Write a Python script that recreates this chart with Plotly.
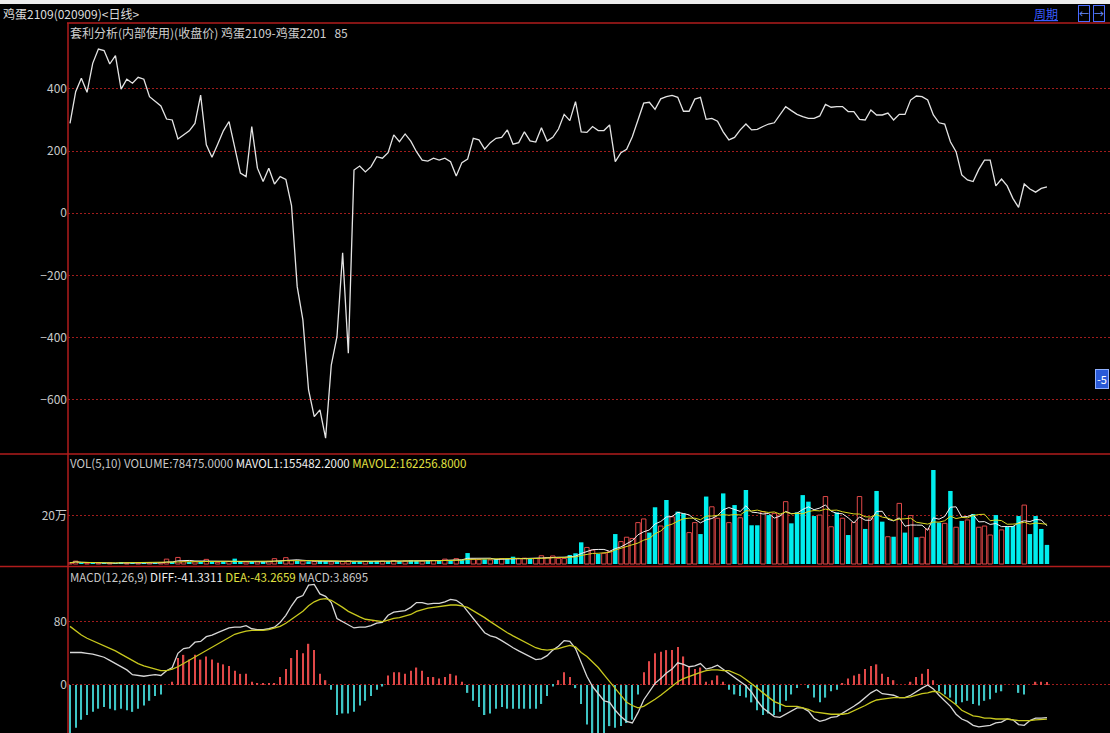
import plotly.graph_objects as go
import pandas as pd

# ---------------- data ----------------
spread = [289, 391, 434, 389, 482, 528, 523, 480, 507, 399,
          431, 418, 437, 431, 375, 359, 345, 303, 300, 239,
          252, 265, 289, 380, 220, 180, 222, 265, 295, 214,
          129, 118, 279, 145, 102, 145, 94, 118, 109, 25,
          -236, -343, -568, -654, -632, -723, -488, -397, -127, -450,
          139, 152, 133, 150, 182, 177, 195,
          252, 230, 255, 232, 198, 171, 168, 177, 171, 177,
          166, 120, 163, 174, 241, 236, 206, 227, 241, 244,
          268, 222, 227, 262, 233, 229, 275, 232, 244, 271,
          318, 298, 359, 262, 260, 279, 266, 266, 284, 166,
          195, 206, 246, 302, 354, 357, 334, 368, 375, 379,
          373, 328, 328, 367, 373, 302, 305, 296,
          262, 236, 244, 268, 287, 268, 270, 279, 287, 291,
          316, 343, 330, 318, 311, 305, 305, 313, 350, 341,
          343, 343, 327, 327, 302, 300, 332, 316, 316, 322,
          300, 318, 318, 364, 377, 375, 364, 316, 291, 287,
          230, 198, 123, 107, 102, 141, 171, 171, 88, 110,
          88, 48, 19, 94, 78, 68, 80, 85]

volume_k = [5, 12, 4, 3, 3, 4, 3, 4, 3, 8, 3, 3, 4, 4, 5, 4,
            6, 20, 8, 27, 10, 8, 9, 7, 19, 8, 7, 9, 10, 22, 9, 8, 7, 9, 10, 11,
            22, 12, 26, 14, 13, 12, 11, 10, 12, 11, 9, 10, 11, 13, 9, 10, 10, 12, 13, 12,
            11, 14, 12, 12, 15, 13, 12, 16, 14, 15, 20, 14, 22, 16, 45, 20, 18, 19, 17, 20,
            22, 20, 30, 22, 24, 21, 23, 34, 26,
            33, 23, 23, 37, 44, 89, 68, 57, 41, 44,
            51, 123, 92, 110, 105, 170, 185, 129, 233, 156,
            263, 194, 215, 208, 129, 170, 123, 277, 235, 188,
            290, 170, 242, 190, 304, 159, 159, 215, 201, 208,
            201, 256, 167, 212, 283, 256, 197, 201, 277, 153,
            212, 188, 119, 171, 277, 144, 188, 300, 174, 112,
            112, 249, 129, 199, 110, 110, 144, 386, 170, 167,
            300, 151, 177, 181, 205, 151, 156, 119, 201, 140,
            153, 156, 197, 242, 123, 197, 144, 78.475]

vol_up = [1, 1, 0, 1, 0, 1, 0, 1, 0, 0, 1, 0, 1, 0, 1, 0,
          1, 1, 0, 1, 1, 0, 1, 0, 1, 0, 1, 0, 1, 0, 0, 1, 0, 1, 0, 1,
          1, 0, 1, 1, 0, 1, 0, 1, 0, 0, 1, 0, 1, 1, 0, 0, 1, 0, 0, 1,
          0, 1, 0, 1, 0, 0, 1, 0, 1, 0, 1, 0, 1, 0, 0, 1, 1, 0, 1, 0,
          1, 0, 0, 1, 1, 0, 1, 1, 1,
          1, 1, 1, 0, 0, 0, 1, 1, 0, 1,
          1, 0, 1, 1, 1, 1, 1, 0, 0, 1,
          0, 1, 0, 0, 1, 1, 0, 0, 1, 1,
          0, 1, 0, 1, 0, 0, 0, 1, 0, 1,
          1, 1, 0, 0, 0, 0, 0, 1, 1, 1,
          0, 1, 0, 1, 1, 0, 1, 0, 0, 1,
          0, 1, 0, 1, 0, 1, 1, 0, 0, 1,
          0, 1, 0, 1, 0, 1, 1, 1, 0, 1,
          0, 0, 0, 1, 0, 0, 0, 0]

diff = [41, 41, 41, 40, 39, 37, 35, 31, 27, 24, 19, 13, 12, 11, 12, 13, 12,
        18, 22, 40, 46, 47, 54, 55, 61, 63, 66, 69, 72, 73, 73, 75, 71, 70, 70, 71, 73,
        79, 88, 100, 110, 113, 126, 127, 115, 112, 104,
        84, 80, 75, 72, 73, 73, 75, 78, 79,
        88, 92, 93, 94, 98, 104, 104, 102, 103, 103, 105, 108, 107, 102,
        93, 84, 76, 66, 62, 60, 56, 51, 47, 43, 39, 35, 32, 33, 37,
        44, 49, 56, 55, 46, 29, 11, -2, -11,
        -20, -22, -32, -40, -46, -48, -35, -19, -8, 2,
        8, 15, 20, 28, 26, 23, 24, 27, 20, 22,
        25, 20, 15, 9, 5, -1, -9, -20, -29, -34,
        -40, -41, -37, -33, -29, -29, -33, -42, -46, -44,
        -41, -40, -36, -32, -27, -22, -16, -10, -6, -11,
        -12, -13, -16, -16, -13, -8, -4, 0, -5, -13,
        -20, -27, -37, -43, -46, -51, -53, -52, -51, -48,
        -47, -43, -44, -50, -51, -45, -42, -42, -41.3311]

dea = [74, 68, 63, 59, 56, 52, 49, 46, 43, 39, 35, 30, 27, 24, 22, 20, 18,
       18, 20, 23, 27, 31, 35, 39, 43, 47, 52, 56, 60, 64, 66, 68, 69, 69, 69, 70, 72,
       74, 78, 83, 88, 93, 100, 105, 108, 109, 107,
       103, 98, 93, 89, 86, 83, 82, 81, 80,
       82, 84, 85, 87, 89, 93, 95, 97, 98, 99, 100, 101, 101, 100,
       98, 94, 90, 85, 80, 75, 70, 66, 62, 58, 54, 50, 47, 45, 44,
       45, 46, 48, 50, 48, 41, 36, 29, 22,
       13, 4, -5, -14, -22, -26, -29, -27, -23, -18,
       -13, -7, -2, 4, 8, 11, 14, 16, 18, 19,
       19, 18, 18, 15, 12, 7, 2, -4, -10, -16,
       -21, -24, -27, -27, -27, -29, -31, -34, -35, -36,
       -37, -37, -37, -36, -33, -29, -26, -22, -19, -18,
       -17, -16, -16, -16, -15, -13, -11, -10, -8, -9,
       -14, -19, -25, -32, -36, -39, -40, -42, -42, -43,
       -43, -43, -44, -45, -45, -45, -44, -44, -43.2659]

main_ticks = [-600, -400, -200, 0, 200, 400]
vol_ticks = [200000]
vol_tick_text = ["20万"]
macd_ticks = [0, 80]

# ---------------- derived ----------------
n = len(spread)
idx = list(range(n))
volume = [v * 1000 for v in volume_k]
mavol1 = pd.Series(volume).rolling(5, min_periods=1).mean().tolist()
mavol2 = pd.Series(volume).rolling(10, min_periods=1).mean().tolist()
macd = [2 * (a - b) for a, b in zip(diff, dea)]

W, H = 1110, 733
T, L = 22, 68


def fy(p):
    return 1 - (p - T) / (H - T)


def fx(p):
    return (p - L) / (W - L)


FONT = "Noto Sans CJK SC, DejaVu Sans, sans-serif"
RED_SEP = "#b01c1c"
GRID = "#a01c1c"
TXT = "#c8c8c8"

fig = go.Figure()

# main spread line
fig.add_trace(go.Scatter(x=idx, y=spread, mode="lines",
                         line=dict(color="#e4e4e4", width=1.3),
                         xaxis="x", yaxis="y"))

# volume bars
up_x = [i for i in idx if vol_up[i] == 1]
dn_x = [i for i in idx if vol_up[i] == 0]
fig.add_trace(go.Bar(x=up_x, y=[volume[i] for i in up_x], width=0.78,
                     marker=dict(color="black", line=dict(color="#e04848", width=1)),
                     xaxis="x2", yaxis="y2"))
fig.add_trace(go.Bar(x=dn_x, y=[volume[i] for i in dn_x], width=0.78,
                     marker=dict(color="#00eeee", line=dict(width=0)),
                     xaxis="x2", yaxis="y2"))
fig.add_trace(go.Scatter(x=idx, y=mavol1, mode="lines",
                         line=dict(color="#f0f0f0", width=1), xaxis="x2", yaxis="y2"))
fig.add_trace(go.Scatter(x=idx, y=mavol2, mode="lines",
                         line=dict(color="#d8d820", width=1), xaxis="x2", yaxis="y2"))

# MACD histogram
pos_x = [i for i in idx if macd[i] >= 0]
neg_x = [i for i in idx if macd[i] < 0]
fig.add_trace(go.Bar(x=pos_x, y=[macd[i] for i in pos_x], width=0.24,
                     marker=dict(color="#e04848", line=dict(width=0)),
                     xaxis="x3", yaxis="y3"))
fig.add_trace(go.Bar(x=neg_x, y=[macd[i] for i in neg_x], width=0.24,
                     marker=dict(color="#3ec4c4", line=dict(width=0)),
                     xaxis="x3", yaxis="y3"))
fig.add_trace(go.Scatter(x=idx, y=diff, mode="lines",
                         line=dict(color="#d8d8d8", width=1.3), xaxis="x3", yaxis="y3"))
fig.add_trace(go.Scatter(x=idx, y=dea, mode="lines",
                         line=dict(color="#c8c81e", width=1.3), xaxis="x3", yaxis="y3"))

xr = [(L - 70) / 5.68, (W - 70) / 5.68]
xcommon = dict(range=xr, showticklabels=False, showgrid=False, zeroline=False,
               showline=False, ticks="", fixedrange=True)
ycommon = dict(showgrid=True, gridcolor=GRID, griddash="2px,2px", gridwidth=1,
               zeroline=False, showline=False, ticks="",
               tickfont=dict(color=TXT, size=12, family=FONT), fixedrange=True)

fig.update_layout(
    width=W, height=H,
    margin=dict(l=L, r=0, t=T, b=0),
    paper_bgcolor="black", plot_bgcolor="black",
    showlegend=False, hovermode=False, barmode="overlay",
    font=dict(family=FONT, color=TXT, size=12),
    xaxis=dict(domain=[0, 1], anchor="y", **xcommon),
    xaxis2=dict(domain=[0, 1], anchor="y2", matches="x", **xcommon),
    xaxis3=dict(domain=[0, 1], anchor="y3", matches="x", **xcommon),
    yaxis=dict(domain=[fy(454), 1], range=[-774, 615], tickvals=main_ticks, **ycommon),
    yaxis2=dict(domain=[fy(566), fy(455)], range=[-8200, 447700],
                tickvals=vol_ticks, ticktext=vol_tick_text, **ycommon),
    yaxis3=dict(domain=[0, fy(567)], range=[-60.7, 149], tickvals=macd_ticks, **ycommon),
)

shapes = [
    dict(type="rect", xref="paper", yref="paper", x0=fx(0), x1=1, y0=fy(4), y1=fy(0),
         fillcolor="#ececec", line=dict(width=0), layer="above"),
    dict(type="line", xref="paper", yref="paper", x0=fx(67), x1=1, y0=fy(23), y1=fy(23),
         line=dict(color=RED_SEP, width=1.5)),
    dict(type="line", xref="paper", yref="paper", x0=fx(0), x1=1, y0=fy(454), y1=fy(454),
         line=dict(color=RED_SEP, width=1.5)),
    dict(type="line", xref="paper", yref="paper", x0=fx(0), x1=1, y0=fy(566.5), y1=fy(566.5),
         line=dict(color=RED_SEP, width=1.5)),
    dict(type="line", xref="paper", yref="paper", x0=fx(68), x1=fx(68), y0=0, y1=fy(23),
         line=dict(color=RED_SEP, width=1.5)),
]
fig.update_layout(shapes=shapes)


def ann(px, py, text, color=TXT, size=12, xanchor="left", **kw):
    fig.add_annotation(xref="paper", yref="paper", x=fx(px), y=fy(py), text=text,
                       showarrow=False, xanchor=xanchor, yanchor="middle",
                       font=dict(color=color, size=size, family=FONT), **kw)


ann(1, 14, "鸡蛋2109(020909)<日线>", color="#dcdcdc", size=12)
ann(1046, 14, "<u>周期</u>", color="#3a5cff", size=12, xanchor="center")
ann(1084, 14, "←", color="#6a8cff", size=10, xanchor="center",
    bordercolor="#4a6cff", borderwidth=1, borderpad=0, bgcolor="black")
ann(1099, 14, "→", color="#6a8cff", size=10, xanchor="center",
    bordercolor="#4a6cff", borderwidth=1, borderpad=0, bgcolor="black")
ann(68, 33, "套利分析(内部使用)(收盘价) 鸡蛋2109-鸡蛋2201&nbsp;&nbsp; 85", color="#cfcfcf", size=12)
ann(68, 463, "VOL(5,10) VOLUME:78475.0000 <span style='color:#f0f0f0'>MAVOL1:155482.2000</span> "
             "<span style='color:#e0e040'>MAVOL2:162256.8000</span>", color="#c8c8c8", size=11.5)
ann(68, 577, "MACD(12,26,9) <span style='color:#f0f0f0'>DIFF:-41.3311</span> "
             "<span style='color:#e0e040'>DEA:-43.2659</span> MACD:3.8695", color="#c8c8c8", size=11.5)
ann(1109, 379, "-5", color="white", size=11, xanchor="right", bgcolor="#2a5ad8",
    bordercolor="#8fb0ff", borderwidth=1, borderpad=1)

fig.write_html("out.html", config={"displayModeBar": False},
               post_script="document.body.style.margin='0px';"
               "document.body.style.overflow='hidden';")
